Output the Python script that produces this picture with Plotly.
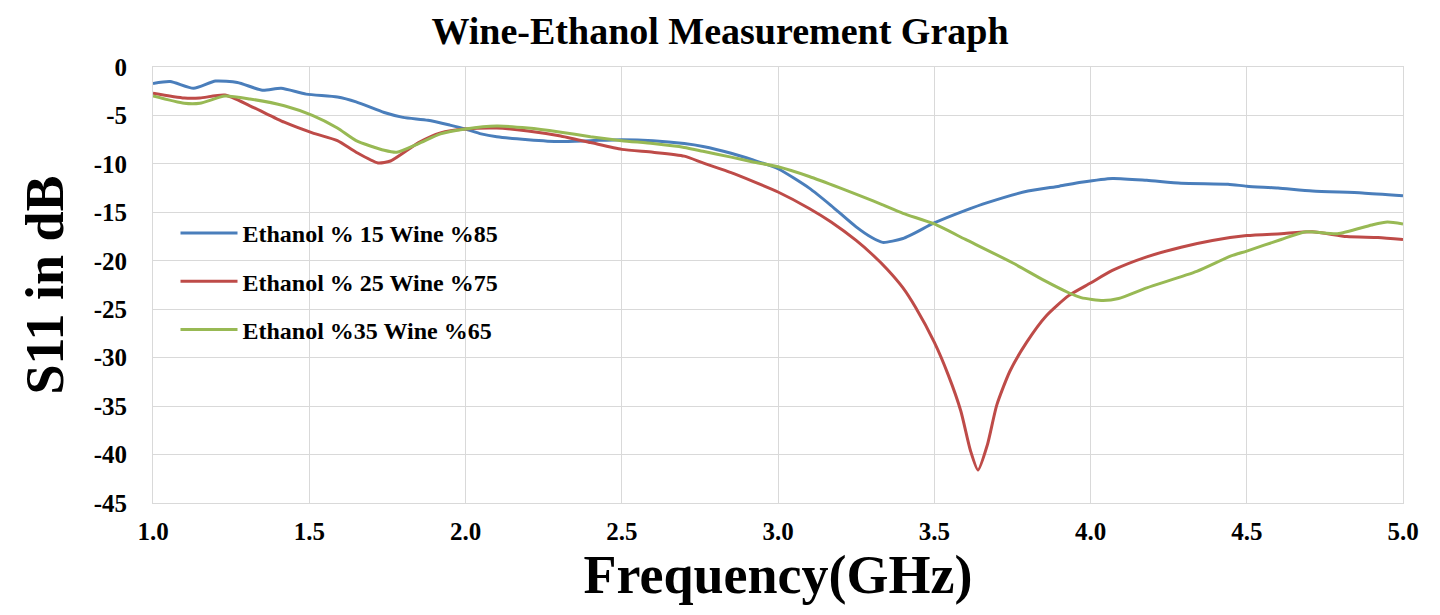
import plotly.graph_objects as go

freq_15 = [1.0, 1.055, 1.13, 1.2, 1.27, 1.35, 1.41, 1.49, 1.59, 1.65, 1.74, 1.8, 1.88, 1.95, 2.0, 2.05,
           2.1, 2.2, 2.3, 2.4, 2.5, 2.6, 2.7, 2.76, 2.85, 2.92, 3.0, 3.1, 3.17, 3.25, 3.3, 3.335, 3.4,
           3.5, 3.6, 3.67, 3.8, 3.9, 3.97, 4.07, 4.18, 4.29, 4.44, 4.5, 4.6, 4.71, 4.87, 5.0]
s11_15 = [-1.7, -1.5, -2.2, -1.45, -1.6, -2.4, -2.2, -2.8, -3.1, -3.6, -4.7, -5.2, -5.5, -6.0, -6.4, -6.9,
          -7.2, -7.5, -7.7, -7.6, -7.5, -7.6, -7.9, -8.2, -8.9, -9.6, -10.5, -12.5, -14.3, -16.5, -17.6,
          -18.1, -17.7, -16.1, -14.8, -14.0, -12.8, -12.3, -11.9, -11.5, -11.7, -12.0, -12.1, -12.3,
          -12.5, -12.8, -13.0, -13.3]

freq_25 = [1.0, 1.1, 1.15, 1.23, 1.31, 1.42, 1.51, 1.59, 1.65, 1.72, 1.76, 1.85, 1.92, 2.0, 2.1, 2.2,
           2.3, 2.4, 2.5, 2.6, 2.7, 2.76, 2.85, 2.92, 3.0, 3.1, 3.17, 3.25, 3.3, 3.35, 3.4, 3.44, 3.5,
           3.545, 3.585, 3.616, 3.64, 3.67, 3.70, 3.742, 3.796, 3.858, 3.93, 4.0, 4.07, 4.18, 4.29, 4.39,
           4.5, 4.61, 4.71, 4.82, 4.92, 5.0]
s11_25 = [-2.7, -3.2, -3.2, -2.9, -4.0, -5.7, -6.8, -7.6, -8.8, -9.9, -9.7, -7.8, -6.8, -6.4, -6.3, -6.6,
          -7.1, -7.8, -8.5, -8.8, -9.2, -9.9, -10.9, -11.8, -12.9, -14.6, -16.0, -17.9, -19.3, -20.9,
          -22.8, -24.8, -28.4, -31.8, -35.5, -39.6, -41.6, -39.0, -34.9, -31.4, -28.4, -25.7, -23.6,
          -22.3, -21.0, -19.6, -18.6, -17.9, -17.4, -17.2, -17.0, -17.5, -17.6, -17.8]

freq_35 = [1.0, 1.1, 1.15, 1.23, 1.31, 1.42, 1.51, 1.59, 1.65, 1.74, 1.78, 1.85, 1.92, 2.0, 2.1, 2.2,
           2.3, 2.4, 2.5, 2.6, 2.7, 2.76, 2.85, 2.92, 3.0, 3.1, 3.2, 3.28, 3.333, 3.4, 3.5, 3.6, 3.75,
           3.85, 3.93, 3.97, 4.04, 4.09, 4.18, 4.34, 4.45, 4.5, 4.61, 4.69, 4.79, 4.9, 4.95, 5.0]
s11_35 = [-3.0, -3.75, -3.75, -3.0, -3.3, -4.0, -5.0, -6.3, -7.6, -8.6, -8.8, -7.9, -6.9, -6.4, -6.1,
          -6.3, -6.7, -7.2, -7.6, -7.9, -8.3, -8.7, -9.3, -9.8, -10.3, -11.3, -12.5, -13.5, -14.2, -15.1,
          -16.2, -17.8, -20.2, -22.0, -23.3, -23.8, -24.1, -23.9, -22.8, -21.1, -19.5, -19.0, -17.8,
          -17.0, -17.2, -16.3, -16.0, -16.2]

names = ["Ethanol % 15 Wine %85", "Ethanol % 25 Wine %75", "Ethanol %35 Wine %65"]
colors = ["#4a7ebb", "#be4b48", "#98b954"]

y_ticks = [0, -5, -10, -15, -20, -25, -30, -35, -40, -45]
y_ticktext = ["0", "-5", "-10", "-15", "-20", "-25", "-30", "-35", "-40", "-45"]
x_ticks = [1.0, 1.5, 2.0, 2.5, 3.0, 3.5, 4.0, 4.5, 5.0]

serif = "Liberation Serif"

fig = go.Figure()
for i, (xs, ys) in enumerate([(freq_15, s11_15), (freq_25, s11_25), (freq_35, s11_35)]):
    fig.add_trace(go.Scatter(
        x=xs, y=ys, mode="lines", name=names[i], legendgroup=f"g{i}",
        line=dict(color=colors[i], width=3, shape="spline", smoothing=0.6),
    ))

fig.update_layout(
    width=1440, height=615,
    paper_bgcolor="white", plot_bgcolor="white",
    margin=dict(l=153, r=37, t=67, b=112),
    title=dict(text="Wine-Ethanol Measurement Graph", x=0.5, xanchor="center",
               y=0.95, yanchor="middle",
               font=dict(family=serif, size=38, color="black", weight="bold")),
    showlegend=True,
    legend=dict(x=0.018, y=0.67, xanchor="left", yanchor="top",
                bgcolor="rgba(255,255,255,0)", tracegroupgap=14, itemwidth=57,
                font=dict(family=serif, size=24, color="black", weight="bold")),
    xaxis=dict(range=[1.0, 5.0], tickvals=x_ticks, tickformat=".1f",
               showgrid=True, gridcolor="#d9d9d9", gridwidth=1,
               showline=True, linecolor="#d9d9d9", mirror=True, zeroline=False,
               ticks="", ticklabelstandoff=6,
               tickfont=dict(family=serif, size=25, color="black", weight="bold"),
               title=dict(text="Frequency(GHz)", standoff=10,
                          font=dict(family=serif, size=54, color="black", weight="bold"))),
    yaxis=dict(range=[-45, 0], tickvals=y_ticks, ticktext=y_ticktext,
               showgrid=True, gridcolor="#d9d9d9", gridwidth=1,
               showline=True, linecolor="#d9d9d9", mirror=True, zeroline=False,
               ticks="", ticklabelstandoff=20,
               tickfont=dict(family=serif, size=25, color="black", weight="bold"),
               title=dict(text="S11 in dB", standoff=12,
                          font=dict(family=serif, size=54, color="black", weight="bold"))),
)

fig.write_html("out.html")
